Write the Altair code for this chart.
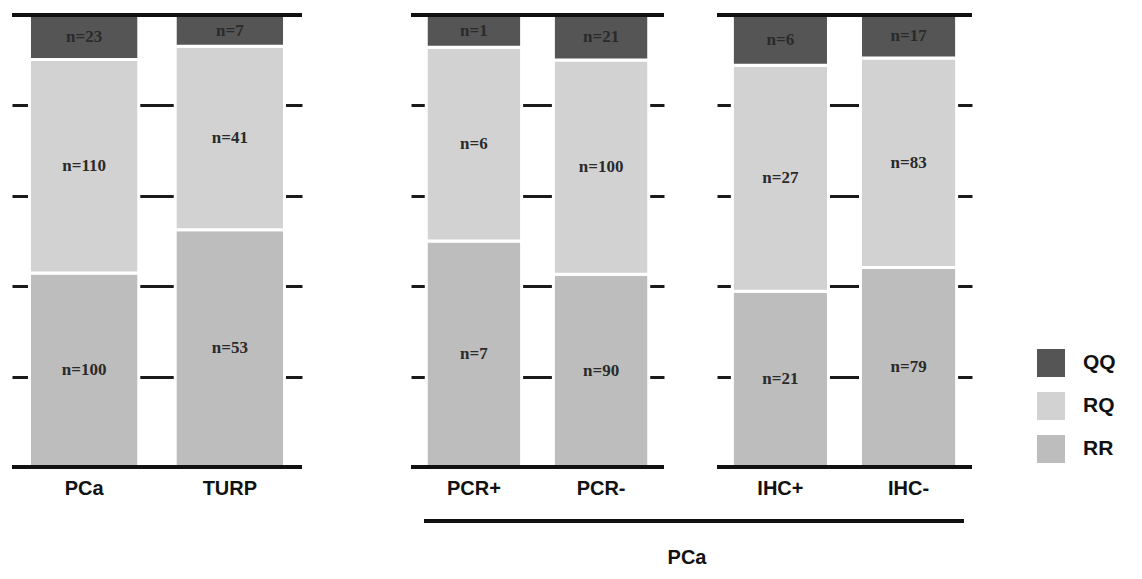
import altair as alt
import pandas as pd

# ---- data ----
categories = ["PCa", "TURP", "PCR+", "PCR-", "IHC+", "IHC-"]
panel_ids = [1, 1, 2, 2, 3, 3]
rr_counts = [100, 53, 7, 90, 21, 79]
rq_counts = [110, 41, 6, 100, 27, 83]
qq_counts = [23, 7, 1, 21, 6, 17]
genotypes = ["QQ", "RQ", "RR"]
genotype_colors = ["#555555", "#d2d2d2", "#bdbdbd"]
stack_order = {"RR": 0, "RQ": 1, "QQ": 2}
grid_values = [0.2, 0.4, 0.6, 0.8]
group_label = "PCa"

rows = []
for cat, pid, rr, rq, qq in zip(categories, panel_ids, rr_counts, rq_counts, qq_counts):
    for g, n in (("RR", rr), ("RQ", rq), ("QQ", qq)):
        rows.append({"cat": cat, "panel": pid, "geno": g, "n": n,
                     "order": stack_order[g], "label": f"n={n}"})
df = pd.DataFrame(rows)

LABEL_FONT = "Liberation Sans"
VALUE_FONT = "Liberation Serif"


def make_panel(pid, width, height=452):
    cats = [c for c, p in zip(categories, panel_ids) if p == pid]
    base = alt.Chart(df).transform_filter(alt.datum.panel == pid).transform_stack(
        stack="n", groupby=["cat"], as_=["y0", "y1"], offset="normalize",
        sort=[alt.SortField("order", order="ascending")]
    ).transform_calculate(mid="(datum.y0 + datum.y1) / 2")

    xenc = alt.X("cat:N", sort=cats,
                 scale=alt.Scale(paddingInner=0.25, paddingOuter=0.12),
                 axis=alt.Axis(title=None, domain=False, ticks=False, labelAngle=0,
                               labelFont=LABEL_FONT, labelFontSize=20,
                               labelFontWeight="bold", labelColor="#111",
                               labelPadding=11))
    yscale = alt.Scale(domain=[0, 1], nice=False, zero=True)

    bars = base.mark_bar(stroke="white", strokeWidth=3).encode(
        x=xenc,
        y=alt.Y("y0:Q", scale=yscale,
                axis=alt.Axis(values=grid_values, grid=True, labels=False, ticks=False,
                              domain=False, title=None, gridColor="#1a1a1a",
                              gridWidth=3)),
        y2="y1:Q",
        color=alt.Color("geno:N", scale=alt.Scale(domain=genotypes, range=genotype_colors),
                        legend=alt.Legend(title=None, orient="none", legendX=1025,
                                          legendY=334, symbolType="square",
                                          symbolSize=784, symbolStrokeWidth=0,
                                          labelFont=LABEL_FONT, labelFontSize=21,
                                          labelFontWeight="bold", labelColor="#111",
                                          labelOffset=18, rowPadding=15, padding=0)),
    )
    texts = base.mark_text(font=VALUE_FONT, fontSize=17, fontWeight="bold",
                           color="#2a2a2a").encode(
        x=alt.X("cat:N", sort=cats),
        y=alt.Y("mid:Q", scale=yscale),
        text="label:N",
    )
    edges = alt.Chart(pd.DataFrame({"v": [0, 1]})).mark_rule(
        color="#111", strokeWidth=4).encode(y=alt.Y("v:Q", scale=yscale))
    return alt.layer(bars, texts, edges).properties(width=width, height=height)


p1 = make_panel(1, 290)
p2 = make_panel(2, 253)
p3 = make_panel(3, 255)

group_df = pd.DataFrame({"label": [group_label]})
group_rule = alt.Chart(group_df).mark_rule(color="#111", strokeWidth=4).encode(
    x=alt.value(13), x2=alt.value(553), y=alt.value(23))
group_text = alt.Chart(group_df).mark_text(
    font=LABEL_FONT, fontSize=20, fontWeight="bold", color="#111", baseline="middle"
).encode(x=alt.value(276), y=alt.value(60), text="label:N")
group_bottom = alt.layer(group_rule, group_text).properties(width=557, height=68)

right = alt.vconcat(alt.hconcat(p2, p3, spacing=49), group_bottom, spacing=0)
chart = alt.hconcat(p1, right, spacing=105).properties(
    padding={"left": 2, "top": 5, "right": 0, "bottom": 0}
).configure(background="white", view={"stroke": "transparent", "strokeWidth": 0})

chart.save("out.html", embed_options={"renderer": "svg", "actions": False})
